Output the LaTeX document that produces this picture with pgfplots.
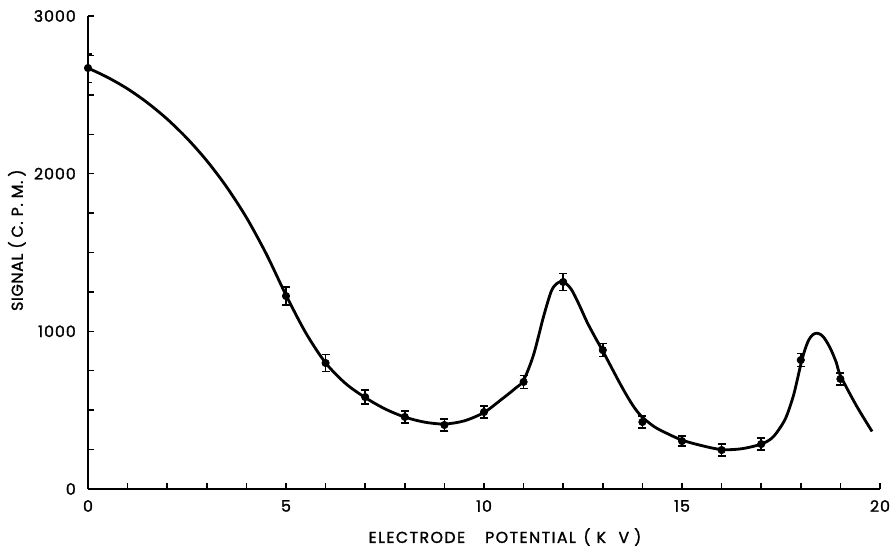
\documentclass[border=0pt]{standalone}
\usepackage{fontspec}
\setmainfont{Poppins}[FakeBold=1.5]
\usepackage{pgfplots}
\pgfplotsset{compat=1.18}

% measured points with their error bars
\pgfplotstableread{
x   y     e
0   2670  90
5   1224  57
6   799   53
7   583   45
8   457   38
9   406   38
10  488   38
11  679   42
12  1313  53
13  881   42
14  425   38
15  304   32
16  247   38
17  285   38
18  818   42
19  698   38
}\measured

% hand drawn curve
\pgfplotstableread{
x     y
0     2670
0.5   2610
1     2538
1.5   2450
2     2346
2.5   2224
3     2082
3.5   1916
4     1722
4.5   1492
5     1230
5.5   990
6     800
6.5   670
7     580
7.5   508
8     456
8.5   424
9     412
9.5   432
10    485
10.4  560
10.8  640
11    690
11.25 850
11.5  1090
11.7  1255
11.85 1305
12    1315
12.2  1268
12.4  1170
12.6  1060
12.8  965
13    875
13.2  780
13.4  685
13.6  595
13.8  515
14    455
14.3  395
14.6  355
15    310
15.5  275
16    250
16.5  255
17    285
17.3  330
17.6  440
17.8  580
17.9  680
18    790
18.1  880
18.2  945
18.3  978
18.4  988
18.5  980
18.6  955
18.75 890
18.9  800
19    720
19.4  530
19.8  365
}\curve

\begin{document}
\begin{tikzpicture}
\useasboundingbox (-1.76,-1.14) rectangle (16.04,9.78);
\begin{axis}[
    scale only axis,
    width=15.84cm, height=9.46cm,
    xmin=0, xmax=20, ymin=0, ymax=3000,
    axis lines*=left,
    axis line style={line width=1pt},
    xtick={0,5,10,15,20},
    ytick={0,1000,2000,3000},
    minor x tick num=4,
    minor y tick num=3,
    tick align=inside,
    major tick length=0.12cm,
    minor tick length=0.12cm,
    tick style={line width=0.8pt, black},
    /pgf/number format/assume math mode=true,
    /pgf/number format/1000 sep={},
    tick label style={font=\fontsize{9}{10}\selectfont\addfontfeatures{LetterSpace=6}},
    yticklabel style={xshift=-0.12cm},
    xticklabel style={yshift=-0.1cm},
    xlabel={ELECTRODE\hspace{0.4cm}POTENTIAL\hspace{0.15cm}(\hspace{0.12cm}K\hspace{0.25cm}V\hspace{0.1cm})},
    ylabel={SIGNAL\hspace{0.1cm}(\hspace{0.08cm}C.\hspace{0.1cm}P.\hspace{0.1cm}M.\hspace{0.08cm})},
    xlabel style={font=\fontsize{9}{10}\selectfont\addfontfeatures{LetterSpace=9},
        at={(axis description cs:0.5265,-0.1015)}, anchor=center},
    ylabel style={font=\fontsize{9}{10}\selectfont\addfontfeatures{LetterSpace=4},
        at={(axis description cs:-0.0898,0.526)}, anchor=center},
]
\addplot[black, line width=1.6pt, smooth, tension=0.5] table[x=x, y=y] {\curve};
\addplot[black, only marks, mark=*, mark size=2.1pt,
    error bars/.cd, y dir=both, y explicit,
    error bar style={line width=0.8pt},
    error mark options={rotate=90, mark size=0.08cm, line width=0.8pt}]
    table[x=x, y=y, y error=e] {\measured};
\end{axis}
\end{tikzpicture}
\end{document}
